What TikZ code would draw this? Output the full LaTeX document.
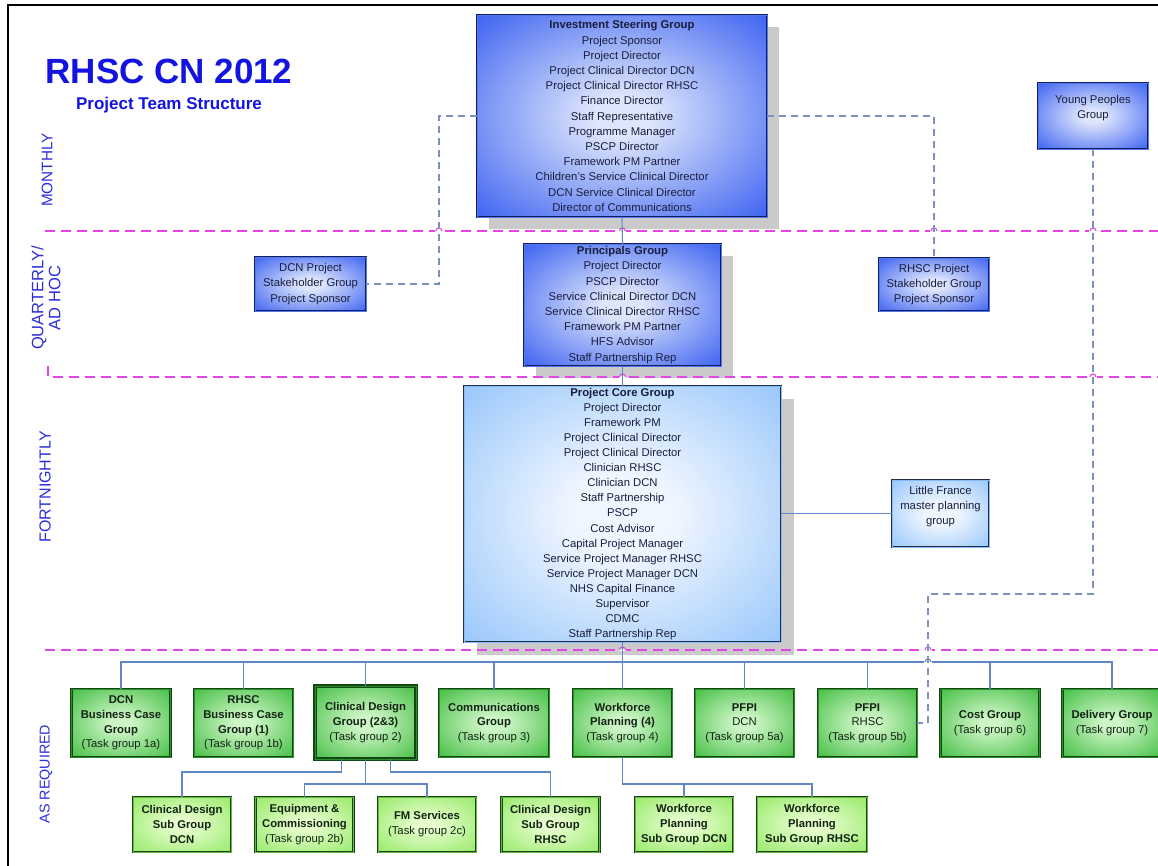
\documentclass[tikz,border=0pt]{standalone}
\usepackage{fontspec}
\setmainfont{Liberation Sans}
\usetikzlibrary{calc,shadows}

% palette
\definecolor{titleblue}{RGB}{20,20,225}
\definecolor{labelblue}{RGB}{45,45,220}
\definecolor{magline}{RGB}{228,70,228}
\definecolor{solidline}{RGB}{95,135,200}
\definecolor{dashline}{RGB}{125,145,190}
\definecolor{shadowgray}{RGB}{202,202,202}
\definecolor{boxtext}{RGB}{25,30,60}
\definecolor{navyedge}{RGB}{20,30,95}
\definecolor{blueinner}{RGB}{222,230,252}
\definecolor{blueouter}{RGB}{48,88,240}
\definecolor{blueband}{RGB}{80,120,240}
\definecolor{paleinner}{RGB}{240,246,255}
\definecolor{paleouter}{RGB}{132,188,250}
\definecolor{coreedge}{RGB}{35,45,70}
\definecolor{greenedge}{RGB}{20,70,20}
\definecolor{greeninner}{RGB}{205,246,198}
\definecolor{greenouter}{RGB}{50,182,50}
\definecolor{litegreeninner}{RGB}{230,255,205}
\definecolor{litegreenouter}{RGB}{135,228,85}
\definecolor{greentext}{RGB}{20,35,20}

% soft radial fills for the boxes
\pgfdeclareradialshading{blueglow}{\pgfpoint{0bp}{0bp}}{%
  color(0bp)=(blueinner); color(5bp)=(blueinner); color(38bp)=(blueouter); color(50bp)=(blueouter)}
\pgfdeclareradialshading{paleglow}{\pgfpoint{0bp}{0bp}}{%
  color(0bp)=(paleinner); color(8bp)=(paleinner); color(42bp)=(paleouter); color(50bp)=(paleouter)}
\pgfdeclareradialshading{greenglow}{\pgfpoint{0bp}{0bp}}{%
  color(0bp)=(greeninner); color(5bp)=(greeninner); color(40bp)=(greenouter); color(50bp)=(greenouter)}
\pgfdeclareradialshading{litegreenglow}{\pgfpoint{0bp}{0bp}}{%
  color(0bp)=(litegreeninner); color(5bp)=(litegreeninner); color(42bp)=(litegreenouter); color(50bp)=(litegreenouter)}

\tikzset{
  boxbase/.style={inner sep=0pt, outer sep=0pt, align=center},
  bluebox/.style={boxbase, shading=blueglow, draw=navyedge, double=blueband,
    double distance=0.9pt, line width=1pt, text=boxtext,
    font=\fontsize{11.3}{15.2}\selectfont},
  palebox/.style={boxbase, shading=paleglow, draw=coreedge, double=paleouter,
    double distance=0.9pt, line width=1pt, text=boxtext,
    font=\fontsize{11.3}{15.1}\selectfont},
  greenbox/.style={boxbase, shading=greenglow, draw=greenedge, double=greenouter!80!black,
    double distance=0.9pt, line width=1pt, text=greentext,
    font=\fontsize{11.3}{14.6}\selectfont, minimum width=99pt, minimum height=68pt},
  litegreenbox/.style={boxbase, shading=litegreenglow, draw=greenedge, double=litegreenouter!80!black,
    double distance=0.9pt, line width=1pt, text=greentext,
    font=\fontsize{11.3}{15}\selectfont, minimum width=98pt, minimum height=55pt},
  boxtxt/.style={inner sep=0pt, align=center, text=boxtext, font=\fontsize{11.3}{15.2}\selectfont},
  period/.style={rotate=90, text=labelblue, align=center, inner sep=0pt},
  periodline/.style={magline, dash pattern=on 10pt off 6pt, line width=1.1pt},
  link/.style={solidline, line width=1.1pt},
  dashlink/.style={dashline, dash pattern=on 7pt off 5pt, line width=1.1pt},
  bigshadow/.style={drop shadow={shadow xshift=12pt, shadow yshift=-12pt, fill=shadowgray, opacity=1}},
}

% small line jump where a connector crosses a horizontal line
\newcommand\linehop[3]{%
  \fill[white] (#1-3.6,#2-1.2) rectangle (#1+3.6,#2+1.2);
  \draw[#3, line width=1.1pt] (#1-3,#2) arc[start angle=180, end angle=360, radius=3];}

\begin{document}
\begin{tikzpicture}[x=1pt,y=-1pt]
\useasboundingbox (0,0) rectangle (1158,865);
\clip (0,0) rectangle (1158,865);
\fill[white] (0,0) rectangle (1158,865);
\draw[line width=2pt] (8,5) rectangle (1200,900);

% heading
\node[anchor=base, text=titleblue, inner sep=0pt, font=\fontsize{35}{40}\selectfont\bfseries] (title) at (169,83) {RHSC CN 2012};
\node[anchor=base, text=titleblue, inner sep=0pt, font=\fontsize{17}{20}\selectfont\bfseries] (subtitle) at (169,109.5) {Project Team Structure};

% meeting frequency bands
\node[period, font=\fontsize{15.3}{16}\selectfont] (lmon) at (47,170) {MONTHLY};
\node[period, font=\fontsize{16.5}{17}\selectfont] (lqua) at (46,298) {QUARTERLY/\\AD HOC};
\node[period, font=\fontsize{16}{17}\selectfont] (lfor) at (45,487) {FORTNIGHTLY};
\node[period, font=\fontsize{14.3}{16}\selectfont] (lreq) at (46,774) {AS REQUIRED};

% governance boxes
\node[bluebox, bigshadow, minimum width=290pt, minimum height=202pt] (isg) at (622,116) {%
  \textbf{Investment Steering Group}\\Project Sponsor\\Project Director\\
  Project Clinical Director DCN\\Project Clinical Director RHSC\\Finance Director\\
  Staff Representative\\Programme Manager\\PSCP Director\\Framework PM Partner\\
  Children's Service Clinical Director\\DCN Service Clinical Director\\Director of Communications};

\node[bluebox, bigshadow, minimum width=197pt, minimum height=122pt] (pg) at (622.5,305) {%
  \textbf{Principals Group}\\Project Director\\PSCP Director\\Service Clinical Director DCN\\
  Service Clinical Director RHSC\\Framework PM Partner\\HFS Advisor\\Staff Partnership Rep};

\node[palebox, drop shadow={shadow xshift=13pt, shadow yshift=-13pt, fill=shadowgray, opacity=1},
  minimum width=317pt, minimum height=256pt] (core) at (622.5,514) {%
  \textbf{Project Core Group}\\Project Director\\Framework PM\\Project Clinical Director\\
  Project Clinical Director\\Clinician RHSC\\Clinician DCN\\Staff Partnership\\PSCP\\
  Cost Advisor\\Capital Project Manager\\Service Project Manager RHSC\\
  Service Project Manager DCN\\NHS Capital Finance\\Supervisor\\CDMC\\Staff Partnership Rep};

\node[bluebox, minimum width=111pt, minimum height=54pt] (dcnp) at (310.5,284) {%
  DCN Project\\Stakeholder Group\\Project Sponsor};
\node[bluebox, minimum width=110pt, minimum height=53pt] (rhscp) at (934,284.5) {%
  RHSC Project\\Stakeholder Group\\Project Sponsor};

\node[bluebox, minimum width=110pt, minimum height=66pt] (yp) at (1093,116) {};
\node[boxtxt] (ypt) at (1093,108) {Young Peoples\\Group};

\node[palebox, minimum width=97pt, minimum height=67pt] (lf) at (940.5,513.5) {};
\node[boxtxt] (lft) at (940.5,506.5) {Little France\\master planning\\group};

% task groups
\node[greenbox] (dcnbc) at (121,723) {\textbf{DCN}\\\textbf{Business Case}\\\textbf{Group}\\(Task group 1a)};
\node[greenbox] (rhscbc) at (243.5,723) {\textbf{RHSC}\\\textbf{Business Case}\\\textbf{Group (1)}\\(Task group 1b)};
\node[greenbox, minimum width=101pt, minimum height=73pt, line width=1.3pt] (cdg) at (365.5,722.5) {\textbf{Clinical Design}\\\textbf{Group (2\&3)}\\(Task group 2)};
\node[greenbox, minimum width=110pt] (comm) at (494,723) {\textbf{Communications}\\\textbf{Group}\\(Task group 3)};
\node[greenbox] (wfp) at (622.5,723) {\textbf{Workforce}\\\textbf{Planning (4)}\\(Task group 4)};
\node[greenbox] (pfdcn) at (744.5,723) {\textbf{PFPI}\\DCN\\(Task group 5a)};
\node[greenbox] (pfrhsc) at (867.5,723) {\textbf{PFPI}\\RHSC\\(Task group 5b)};
\node[greenbox] (cost) at (990,723) {\textbf{Cost Group}\\(Task group 6)};
\node[greenbox] (dlv) at (1112,723) {\textbf{Delivery Group}\\(Task group 7)};

% sub groups
\node[litegreenbox] (cdsd) at (182,824.5) {\textbf{Clinical Design}\\\textbf{Sub Group}\\\textbf{DCN}};
\node[litegreenbox] (eqc) at (304.5,824.5) {\textbf{Equipment \&}\\\textbf{Commissioning}\\(Task group 2b)};
\node[litegreenbox] (fms) at (427,824.5) {\textbf{FM Services}\\(Task group 2c)};
\node[litegreenbox] (cdsr) at (550.5,824.5) {\textbf{Clinical Design}\\\textbf{Sub Group}\\\textbf{RHSC}};
\node[litegreenbox] (wfsd) at (684,824.5) {\textbf{Workforce}\\\textbf{Planning}\\\textbf{Sub Group DCN}};
\node[litegreenbox, minimum width=110pt] (wfsr) at (812,824.5) {\textbf{Workforce}\\\textbf{Planning}\\\textbf{Sub Group RHSC}};

% frequency band separators, with jumps where connectors pass
\draw[periodline] (45,231) -- (1158,231);
\draw[periodline] (48,366) -- (48,377) -- (1158,377);
\draw[periodline] (45,650) -- (1158,650);
\foreach \hx in {439,622.5,934,1093} {\linehop{\hx}{231}{magline}}
\foreach \hx in {622.5,1093} {\linehop{\hx}{377}{magline}}
\foreach \hx in {622.5,928} {\linehop{\hx}{650}{magline}}

% reporting lines
\draw[link] (isg.south) -- (pg.north);
\draw[link] (pg.south) -- (core.north);
\draw[link] (core.south) -- (wfp.north);
\draw[link] (lf.west) -- (lf.west -| core.east);

\coordinate (busy) at (0,662);
\draw[link] (dcnbc.north) -- (dcnbc.north |- busy) -| (dlv.north);
\foreach \n in {rhscbc,cdg,comm,pfdcn,pfrhsc,cost}
  \draw[link] (\n.north) -- (\n.north |- busy);
\linehop{928}{662}{solidline}

\draw[link] ([xshift=-24pt]cdg.south) -- ++(0,13) -| (cdsd.north);
\draw[link] (cdg.south) -- ++(0,25) coordinate (cdmid);
\draw[link] (eqc.north) |- (cdmid) -| (fms.north);
\draw[link] ([xshift=25pt]cdg.south) -- ++(0,13) -| (cdsr.north);

\draw[link] (wfp.south) -- ++(0,27) coordinate (wfmid) -| (wfsr.north);
\draw[link] (wfsd.north) -- (wfsd.north |- wfmid);

% advisory links
\draw[dashlink] (isg.west) -- ++(-38,0) |- (dcnp.east);
\draw[dashlink] (isg.east) -| (rhscp.north);
\draw[dashlink] (yp.south) -- ++(0,445) -| ($(pfrhsc.east)+(11,0)$) -- (pfrhsc.east);
\end{tikzpicture}
\end{document}
